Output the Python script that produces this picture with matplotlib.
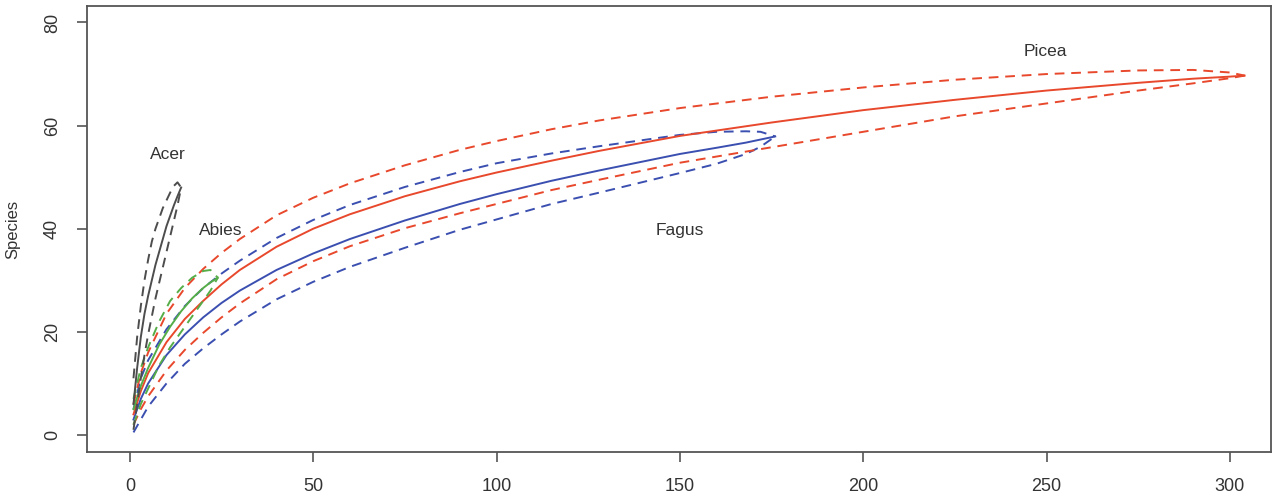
import matplotlib.pyplot as plt

plt.rcParams['font.family'] = ['Liberation Sans', 'DejaVu Sans']

# Acer (grey)
acer_x = [1, 2, 3, 4, 5, 6, 7, 8, 9, 10, 11, 12, 13, 14]
acer_mean = [6, 13, 19, 23.5, 27, 30, 33, 35.5, 38, 40.5, 42.5, 44.5, 46.3, 48]
acer_upper = [11, 19, 25, 30, 34, 37.5, 40, 42, 44, 45.5, 47, 48.3, 49, 48]
acer_lower = [1, 6, 11, 15.5, 19.5, 23, 26.5, 29.5, 32.5, 35.5, 38.5, 41.5, 44.5, 48]

# Abies (green)
abies_x = [1, 3, 5, 8, 11, 14, 17, 20, 22, 24]
abies_mean = [5, 9.5, 13, 17.5, 21, 24, 26.5, 28.5, 29.6, 30.5]
abies_upper = [7, 13, 17, 22, 26, 28.5, 30.5, 31.8, 32, 30.5]
abies_lower = [2, 6, 9, 13.5, 17, 20, 23, 26, 28, 30.5]

# Fagus (blue)
fagus_x = [1, 3, 5, 10, 15, 20, 25, 30, 40, 50, 60, 75, 90, 100, 115, 128,
           150, 160, 168, 172, 176]
fagus_mean = [3, 7, 10, 15.5, 19.5, 22.8, 25.6, 28, 32, 35.2, 38, 41.6, 44.8,
              46.7, 49.3, 51.3, 54.5, 55.7, 56.7, 57.3, 57.9]
fagus_upper = [5, 11, 14.5, 20.5, 25, 28.5, 31.3, 33.8, 38.2, 41.7, 44.6, 48.1, 51,
               52.7, 54.6, 56, 58.2, 58.8, 58.9, 58.8, 57.9]
fagus_lower = [0.5, 3, 5.5, 10, 13.8, 16.8, 19.5, 22, 26.3, 29.7, 32.6, 36.3, 39.8,
               41.8, 44.8, 47, 50.8, 52.6, 54.5, 55.9, 57.9]

# Picea (red)
picea_x = [1, 3, 5, 10, 15, 20, 25, 30, 40, 50, 60, 75, 90, 100, 115, 128, 150,
           175, 200, 225, 250, 275, 290, 300, 304]
picea_mean = [4, 8.5, 12, 18, 22.5, 26, 29.2, 32, 36.5, 40, 42.8, 46.3, 49.2, 50.9,
              53.2, 55.1, 58, 60.6, 63, 65, 66.8, 68.3, 69.1, 69.5, 69.7]
picea_upper = [6, 12, 16, 23.5, 28.5, 32.2, 35.3, 38, 42.6, 46, 48.8, 52.3, 55.3, 57,
               59.3, 61, 63.4, 65.6, 67.4, 68.9, 70, 70.7, 70.8, 70.3, 69.7]
picea_lower = [2, 5, 7.5, 12.5, 16.5, 19.8, 22.8, 25.5, 30.2, 33.7, 36.6, 40.1, 43,
               44.8, 47.5, 49.5, 52.8, 55.8, 58.8, 61.8, 64.3, 66.8, 68.2, 69.2, 69.7]

labels = ["Acer", "Abies", "Fagus", "Picea"]
label_x = [10.4, 24.8, 150, 249.8]
label_y = [54.4, 39.6, 39.6, 74.3]

series = [
    (fagus_x, fagus_mean, fagus_upper, fagus_lower, "#3b4fb0"),
    (picea_x, picea_mean, picea_upper, picea_lower, "#e8482c"),
    (abies_x, abies_mean, abies_upper, abies_lower, "#55ad48"),
    (acer_x, acer_mean, acer_upper, acer_lower, "#4d4d4d"),
]

fig = plt.figure(figsize=(12.76, 4.99), dpi=100)
ax = fig.add_axes([0.0684, 0.0942, 0.9274, 0.8938])

for xs, m, up, lo, col in series:
    ax.plot(xs, up, color=col, lw=1.4, dashes=(5, 3.5))
    ax.plot(xs, lo, color=col, lw=1.4, dashes=(5, 3.5))
    ax.plot(xs, m, color=col, lw=1.4)

for t, lx, ly in zip(labels, label_x, label_y):
    ax.text(lx, ly, t, fontsize=12.5, color="#333333", ha="center", va="center")

ax.set_xlim(-11.6, 311.1)
ax.set_ylim(-3.3, 83.2)
ax.set_xticks([0, 50, 100, 150, 200, 250, 300])
ax.set_yticks([0, 20, 40, 60, 80])
ax.tick_params(length=7, width=1.2, color="#555555", labelsize=13,
               labelcolor="#333333")
ax.tick_params(axis="x", pad=12)
ax.tick_params(axis="y", pad=12)
for lab in ax.get_yticklabels():
    lab.set_rotation(90)
    lab.set_va("center")
for s in ax.spines.values():
    s.set_color("#555555")
    s.set_linewidth(1.3)

ax.set_ylabel("Species", fontsize=12, color="#333333", labelpad=17)

plt.savefig("out.png", dpi=100)
